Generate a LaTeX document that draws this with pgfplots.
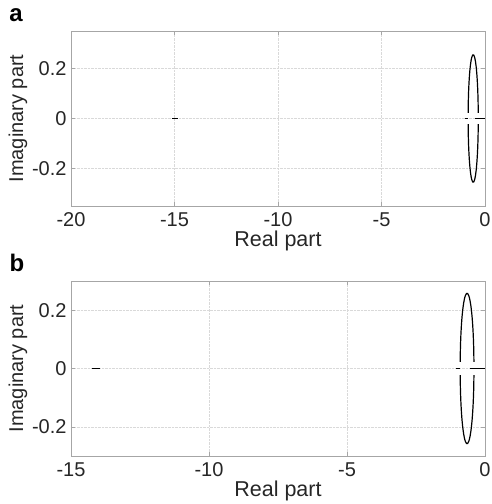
\documentclass[border=0pt]{standalone}
\usepackage{pgfplots}
\pgfplotsset{compat=1.18}
\usepackage{fontspec}
\setmainfont{Liberation Sans}
\pgfplotsset{
  myax/.style={
    scale only axis, width=414pt, height=175pt,
    axis line style={gray!70, line width=0.6pt},
    tick style={gray!70, line width=0.5pt},
    tick align=inside, major tick length=4pt, tick pos=both,
    grid=major, major grid style={gray!30, densely dotted, line width=0.4pt},
    tick label style={font=\fontsize{20}{24}\selectfont, text=black!85},
    xlabel={Real part}, ylabel={Imaginary part},
    every axis x label/.style={at={(axis description cs:0.5,0)}, yshift=-35pt, anchor=center, font=\fontsize{21.5}{25}\selectfont, text=black!85},
    every axis y label/.style={at={(axis description cs:0,0.5)}, xshift=-53pt, rotate=90, anchor=center, font=\fontsize{20}{24}\selectfont, text=black!85},
    xticklabel style={yshift=-3pt},
    yticklabel style={xshift=-1pt},
    ytick={-0.2,0,0.2}, yticklabels={-0.2,0,0.2},
    anchor=north west,
  },
  locus/.style={black, line width=1.2pt},
}
\begin{document}
\begin{tikzpicture}
\useasboundingbox (-71pt,-473pt) rectangle (420pt,31pt);
% panel a
\begin{axis}[myax, at={(0pt,0pt)},
  xmin=-20, xmax=0, ymin=-0.35, ymax=0.35,
  xtick={-20,-15,-10,-5,0}, xticklabels={-20,-15,-10,-5,0}]
\addplot[locus] coordinates {(-15.1,0) (-14.82,0)};
\addplot[locus] coordinates {(-0.97,0) (-0.84,0)};
\addplot[locus] coordinates {(-0.46,0) (0,0)};
\addplot[locus, smooth] coordinates {
(-0.3259,0.0222) (-0.3333,0.0660) (-0.3480,0.1078) (-0.3693,0.1463) (-0.3968,0.1803)
(-0.4295,0.2089) (-0.4665,0.2311) (-0.5066,0.2463) (-0.5486,0.2540) (-0.5914,0.2540)
(-0.6334,0.2463) (-0.6735,0.2311) (-0.7105,0.2089) (-0.7432,0.1803) (-0.7707,0.1463)
(-0.7920,0.1078) (-0.8067,0.0660) (-0.8141,0.0222)};
\addplot[locus, smooth] coordinates {
(-0.8141,-0.0222) (-0.8067,-0.0660) (-0.7920,-0.1078) (-0.7707,-0.1463) (-0.7432,-0.1803)
(-0.7105,-0.2089) (-0.6735,-0.2311) (-0.6334,-0.2463) (-0.5914,-0.2540) (-0.5486,-0.2540)
(-0.5066,-0.2463) (-0.4665,-0.2311) (-0.4295,-0.2089) (-0.3968,-0.1803) (-0.3693,-0.1463)
(-0.3480,-0.1078) (-0.3333,-0.0660) (-0.3259,-0.0222)};
\end{axis}
\node[font=\fontsize{24}{28}\selectfont\bfseries] at (-55pt,16pt) {a};
% panel b
\begin{axis}[myax, at={(0pt,-250pt)},
  xmin=-15, xmax=0, ymin=-0.3, ymax=0.3,
  xtick={-15,-10,-5,0}, xticklabels={-15,-10,-5,0}]
\addplot[locus] coordinates {(-14.25,0) (-13.95,0)};
\addplot[locus] coordinates {(-1.05,0) (-0.92,0)};
\addplot[locus] coordinates {(-0.54,0) (0,0)};
\addplot[locus, smooth] coordinates {
(-0.4009,0.0225) (-0.4085,0.0668) (-0.4234,0.1090) (-0.4452,0.1480) (-0.4732,0.1824)
(-0.5066,0.2114) (-0.5443,0.2338) (-0.5853,0.2492) (-0.6282,0.2570) (-0.6718,0.2570)
(-0.7147,0.2492) (-0.7557,0.2338) (-0.7934,0.2114) (-0.8268,0.1824) (-0.8548,0.1480)
(-0.8766,0.1090) (-0.8915,0.0668) (-0.8991,0.0225)};
\addplot[locus, smooth] coordinates {
(-0.8991,-0.0225) (-0.8915,-0.0668) (-0.8766,-0.1090) (-0.8548,-0.1480) (-0.8268,-0.1824)
(-0.7934,-0.2114) (-0.7557,-0.2338) (-0.7147,-0.2492) (-0.6718,-0.2570) (-0.6282,-0.2570)
(-0.5853,-0.2492) (-0.5443,-0.2338) (-0.5066,-0.2114) (-0.4732,-0.1824) (-0.4452,-0.1480)
(-0.4234,-0.1090) (-0.4085,-0.0668) (-0.4009,-0.0225)};
\end{axis}
\node[font=\fontsize{24}{28}\selectfont\bfseries] at (-54pt,-232pt) {b};
\end{tikzpicture}
\end{document}
